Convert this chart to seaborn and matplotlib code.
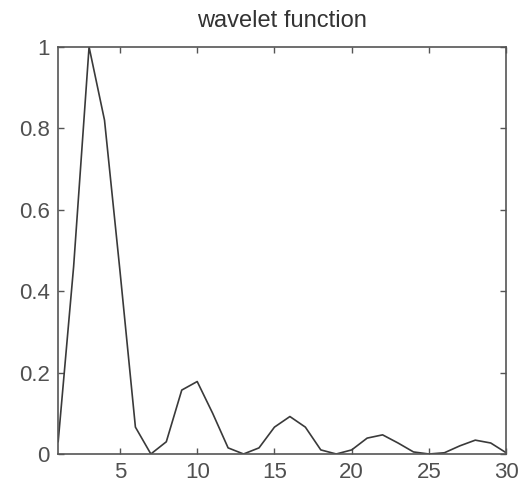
import matplotlib
matplotlib.use("Agg")
import matplotlib.pyplot as plt
import seaborn as sns
import pandas as pd

x_vals = list(range(1, 31))
y_vals = [0.03, 0.46, 1.00, 0.82, 0.45, 0.066, 0.0, 0.03, 0.157, 0.178,
          0.10, 0.015, 0.0, 0.015, 0.066, 0.092, 0.066, 0.01, 0.0, 0.01,
          0.039, 0.047, 0.027, 0.005, 0.0, 0.003, 0.02, 0.034, 0.027, 0.003]
x_ticks = [5, 10, 15, 20, 25, 30]
y_ticks = [0, 0.2, 0.4, 0.6, 0.8, 1]
y_tick_labels = ["0", "0.2", "0.4", "0.6", "0.8", "1"]
title = "wavelet function"

sns.set_style("white")
plt.rcParams['font.family'] = ['Liberation Sans', 'DejaVu Sans']

df = pd.DataFrame({"x": x_vals, "y": y_vals})
fig = plt.figure(figsize=(5.24, 4.94), dpi=100)
ax = fig.add_axes([0.111, 0.081, 0.855, 0.824])
sns.lineplot(data=df, x="x", y="y", ax=ax, color="#3a3a3a", linewidth=1.2)
ax.set_xlim(1, 30)
ax.set_ylim(0, 1)
ax.set_xticks(x_ticks)
ax.set_yticks(y_ticks)
ax.set_yticklabels(y_tick_labels)
ax.set_xlabel("")
ax.set_ylabel("")
ax.set_title(title, fontsize=17, color="#333333", pad=14)
ax.tick_params(direction="in", length=4, width=1, colors="#555555",
               labelcolor="#505050", labelsize=16, top=True, right=True,
               bottom=True, left=True, pad=6)
for s in ax.spines.values():
    s.set_color("#555555")
    s.set_linewidth(1.2)
fig.savefig("out.png", dpi=100)
